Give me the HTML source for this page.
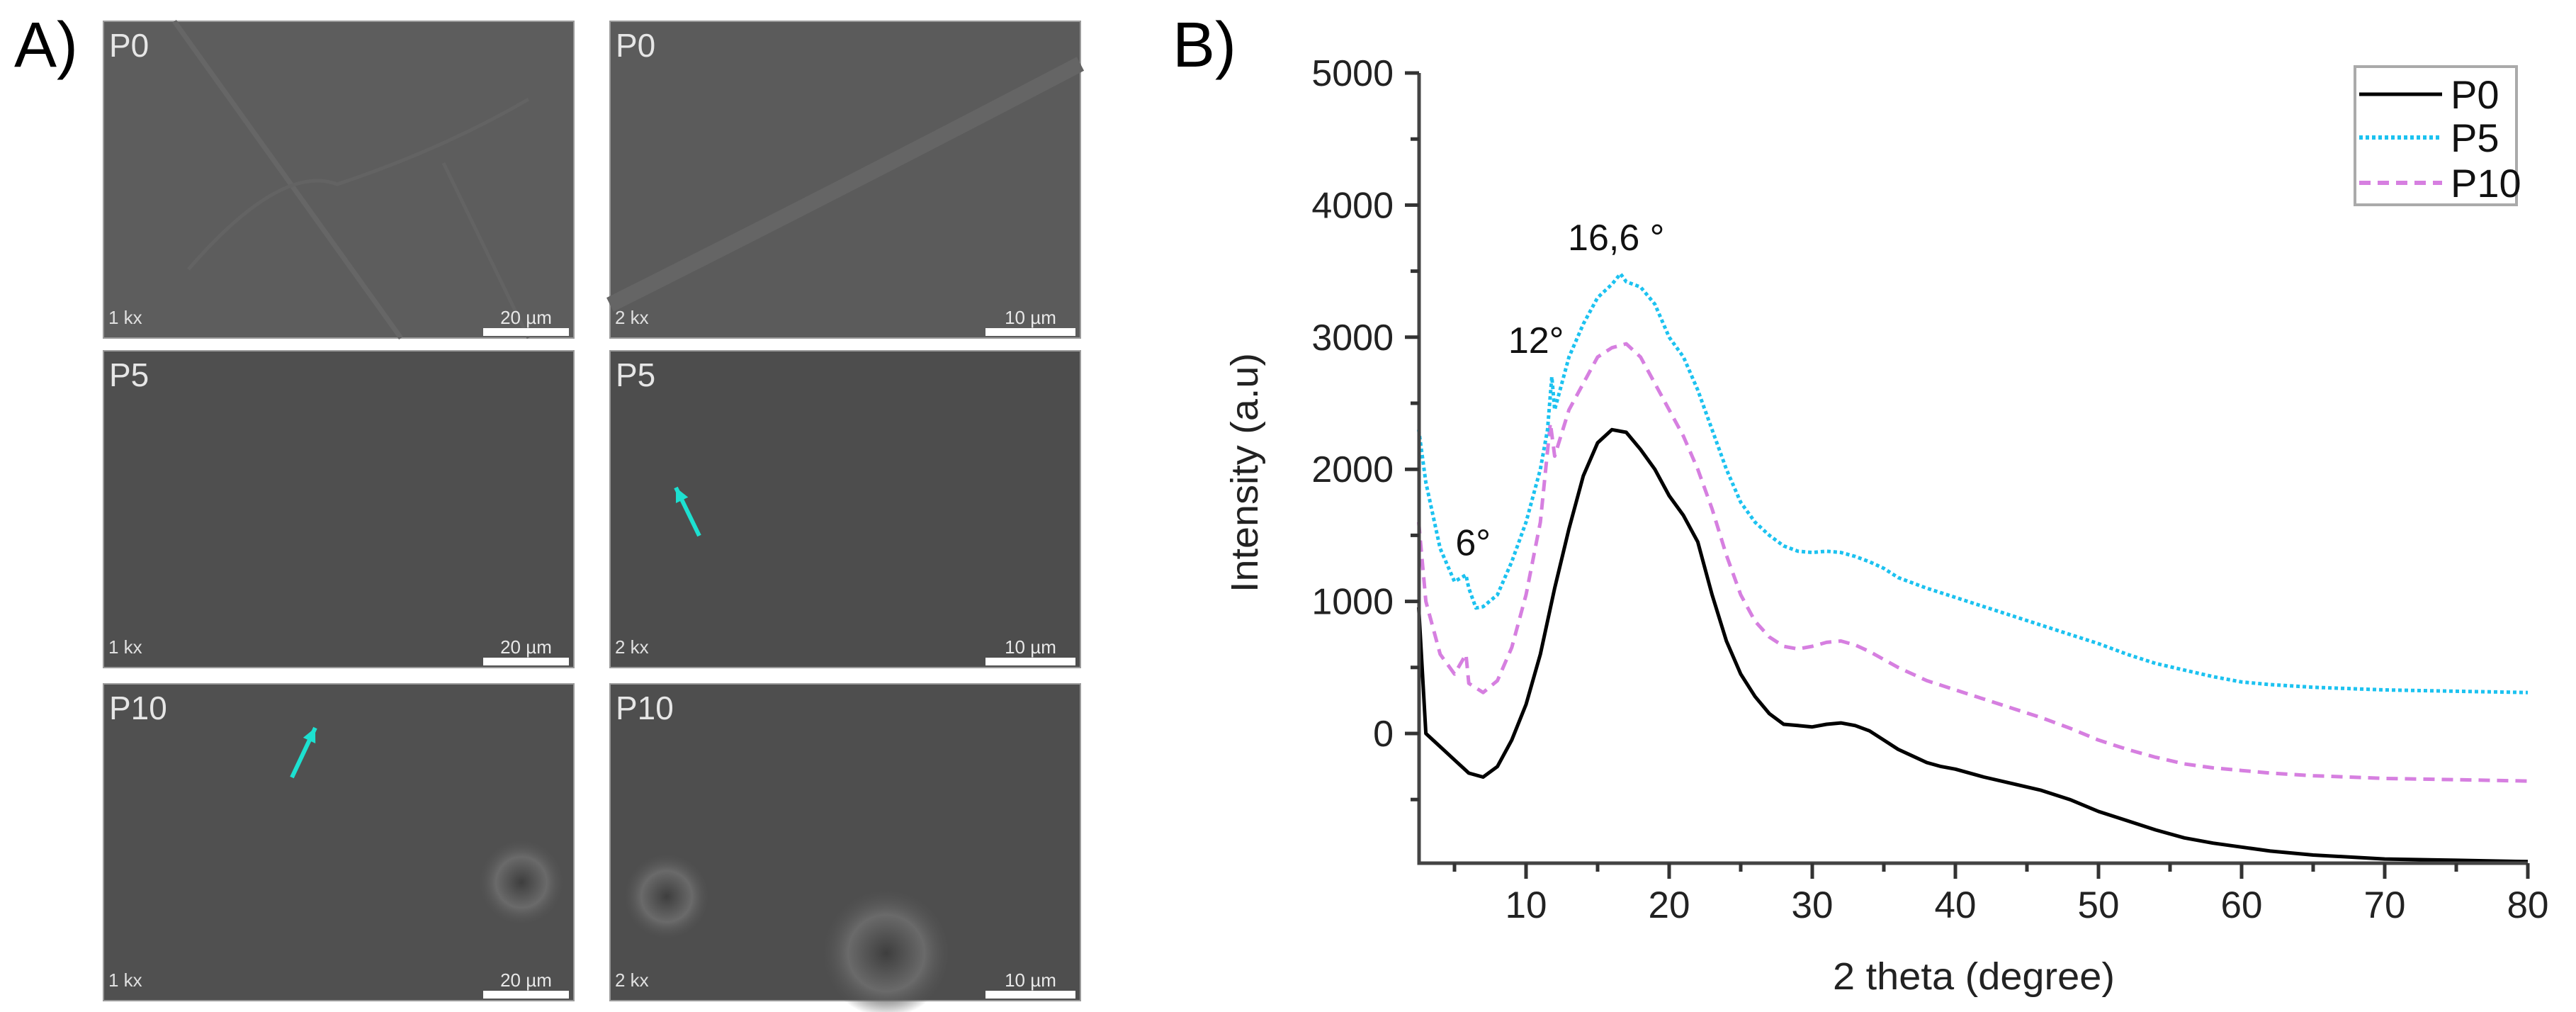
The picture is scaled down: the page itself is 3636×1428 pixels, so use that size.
<!DOCTYPE html>
<html><head><meta charset="utf-8"><style>
html,body{margin:0;padding:0;background:#fff;}
svg{display:block;font-family:"Liberation Sans",sans-serif;}
</style></head><body>
<svg id="fig" width="3636" height="1428" viewBox="0 0 3636 1428" xmlns="http://www.w3.org/2000/svg">
<defs>
<radialGradient id="g1" cx="0.5" cy="0.5" r="0.5"><stop offset="0" stop-color="#3e3e3e"/><stop offset="0.6" stop-color="#6a6a6a"/><stop offset="1" stop-color="#555" stop-opacity="0"/></radialGradient>
</defs>
<text x="20" y="94" font-size="90" fill="#000">A)</text>
<text x="1655" y="94" font-size="90" fill="#000">B)</text>
<g id="sem"></g>
<g id="chart"></g>
</svg>
<script>
// ---------- SEM panels ----------
const semRows = ['P0','P5','P10'];
const semMag = ['1 kx','2 kx'];
const semScale = ['20 µm','10 µm'];
const semFill = [['#5d5d5d','#5b5b5b'],['#4f4f4f','#4d4d4d'],['#505050','#4e4e4e']];
const NS='http://www.w3.org/2000/svg';
function mk(tag, attrs, parent){const e=document.createElementNS(NS,tag);for(const k in attrs)e.setAttribute(k,attrs[k]);parent.appendChild(e);return e;}
const sem=document.getElementById('sem');
const colX=[146,861], rowY=[30,495,965], pw=664, ph=447;
for(let r=0;r<3;r++){for(let c=0;c<2;c++){
  const x=colX[c], y=rowY[r];
  const g=mk('g',{},sem);
  
  
  mk('rect',{x:x,y:y,width:pw,height:ph,fill:semFill[r][c],stroke:'#9a9a9a','stroke-width':2},g);
  if(r===0&&c===0){
    mk('path',{d:`M${x+100} ${y} L${x+420} ${y+ph}`,stroke:'#666','stroke-width':7,fill:'none'},g);
    mk('path',{d:`M${x+120} ${y+350} Q${x+250} ${y+200} ${x+330} ${y+230} Q${x+480} ${y+180} ${x+600} ${y+110}`,stroke:'#636363','stroke-width':5,fill:'none'},g);
    mk('path',{d:`M${x+480} ${y+200} L${x+600} ${y+ph}`,stroke:'#636363','stroke-width':5,fill:'none'},g);
  }
  if(r===0&&c===1){
    mk('path',{d:`M${x} ${y+400} Q${x+300} ${y+250} ${x+664} ${y+60}`,stroke:'#656565','stroke-width':22,fill:'none'},g);
  }
  if(r===2){
    const cx = c===0? x+590 : x+80, cy = c===0? y+280 : y+300;
    mk('circle',{cx:cx,cy:cy,r:60,fill:'url(#g1)'},g);
    if(c===1) mk('circle',{cx:x+390,cy:y+380,r:90,fill:'url(#g1)'},g);
  }
  const t1=mk('text',{x:x+8,y:y+50,'font-size':46,fill:'#e6e6e6'},g); t1.textContent=semRows[r];
   
  const t2=mk('text',{x:x+7,y:y+ph-20,'font-size':26,fill:'#e0e0e0'},g); t2.textContent=semMag[c];
   
  const bw = c===0?121:127;
  const sb=mk('rect',{x:x+pw-7-bw,y:y+ph-14,width:bw,height:11,fill:'#fff'},g);
   
  const t3=mk('text',{x:x+pw-7-bw/2,y:y+ph-20,'font-size':26,fill:'#e8e8e8','text-anchor':'middle'},g); t3.textContent=semScale[c];
   
}}
function arrow(x1,y1,x2,y2,name){
  const g=mk('g',{},sem);
   
  mk('line',{x1:x1,y1:y1,x2:x2,y2:y2,stroke:'#1de0d0','stroke-width':6},g);
  const a=Math.atan2(y2-y1,x2-x1), L=22, w=0.45;
  mk('polygon',{points:`${x2},${y2} ${x2-L*Math.cos(a-w)},${y2-L*Math.sin(a-w)} ${x2-L*Math.cos(a+w)},${y2-L*Math.sin(a+w)}`,fill:'#1de0d0'},g);
}
arrow(987,756,954,688,'arrow-p5');
arrow(412,1097,445,1027,'arrow-p10');

// ---------- XRD chart ----------
const p0X = [2.5,3,4,5,6,7,8,9,10,11,12,13,14,15,16,17,18,19,20,21,22,23,24,25,26,27,28,29,30,31,32,33,34,35,36,37,38,39,40,42,44,46,48,50,52,54,56,58,60,62,65,70,75,80];
const p0Y = [955,0,-100,-200,-300,-330,-250,-50,220,600,1100,1550,1950,2200,2300,2280,2150,2000,1800,1650,1450,1050,700,450,280,150,70,60,50,70,80,60,20,-50,-120,-170,-220,-250,-270,-330,-380,-430,-500,-590,-660,-730,-790,-830,-860,-890,-920,-950,-960,-970];
const p5X = [2.5,3,4,5,5.8,6,6.5,7,8,9,10,11,11.5,11.8,12,13,14,15,16,16.6,17,18,19,20,21,22,23,24,25,26,27,28,29,30,31,32,33,34,35,36,38,40,42,44,46,48,50,52,54,56,58,60,62,65,70,75,80];
const p5Y = [2300,1900,1400,1150,1200,1100,950,960,1050,1300,1600,2000,2300,2700,2450,2850,3100,3300,3400,3480,3420,3380,3250,3000,2850,2600,2300,2000,1750,1600,1500,1420,1380,1370,1380,1370,1340,1300,1250,1180,1100,1030,960,890,820,750,680,600,530,480,430,390,370,350,330,320,310];
const p10X = [2.5,3,4,5,5.8,6,7,8,9,10,11,11.7,12,13,14,15,16,17,18,19,20,21,22,23,24,25,26,27,28,29,30,31,32,33,34,35,36,38,40,42,44,46,48,50,52,54,56,58,60,62,65,70,75,80];
const p10Y = [1600,1000,600,450,600,380,310,400,650,1050,1600,2350,2100,2450,2650,2850,2920,2950,2850,2650,2450,2250,2000,1700,1350,1050,850,730,660,640,660,690,700,670,620,560,500,400,330,260,190,120,40,-50,-120,-180,-230,-260,-280,-300,-320,-340,-350,-360];
const xTicks = [10,20,30,40,50,60,70,80];
const xMinor = [5,15,25,35,45,55,65,75];
const yTicks = [0,1000,2000,3000,4000,5000];
const yMinor = [-500,500,1500,2500,3500,4500];
const annoText = ['6°','12°','16,6 °'];
const annoX = [6.3,10.7,16.3];
const annoY = [1350,2880,3660];

const X0=2003, X1=3568;
const Y0=1035, YPER=0.1864, YBOT=1218, YTOP=103;
const sx = v => 2154 + (v-10)*20.2;
const sy = v => Y0 - v*YPER;
const ch=document.getElementById('chart');

function series(xs, ys, color, dash, width, name){
  let d='';
  for(let i=0;i<xs.length;i++) d+=(i?'L':'M')+sx(xs[i]).toFixed(1)+' '+sy(ys[i]).toFixed(1);
  const p=mk('path',{d:d,fill:'none',stroke:color,'stroke-width':width,'stroke-dasharray':dash,'stroke-linejoin':'round'},ch);
  
  
}
series(p10X,p10Y,'#d67fe0','16 10',5,'series-p10');
series(p5X,p5Y,'#1cc2f0','5 4',5,'series-p5');
series(p0X,p0Y,'#000','',5,'series-p0');

const ax=mk('path',{d:`M${X0} ${YTOP} V${YBOT} H${X1}`,fill:'none',stroke:'#444','stroke-width':5},ch);
 
yTicks.forEach(v=>{
  mk('line',{x1:X0-20,y1:sy(v),x2:X0,y2:sy(v),stroke:'#333','stroke-width':5},ch);
  const t=mk('text',{x:1967,y:sy(v)+18,'font-size':52,'text-anchor':'end',fill:'#222'},ch); t.textContent=v;
   
});
yMinor.forEach(v=>mk('line',{x1:X0-12,y1:sy(v),x2:X0,y2:sy(v),stroke:'#333','stroke-width':5},ch));
xTicks.forEach(v=>{
  mk('line',{x1:sx(v),y1:YBOT,x2:sx(v),y2:YBOT+22,stroke:'#333','stroke-width':5},ch);
  const t=mk('text',{x:sx(v),y:1295,'font-size':53,'text-anchor':'middle',fill:'#222'},ch); t.textContent=v;
   
});
xMinor.forEach(v=>mk('line',{x1:sx(v),y1:YBOT,x2:sx(v),y2:YBOT+12,stroke:'#333','stroke-width':5},ch));

const xt=mk('text',{x:2786,y:1396,'font-size':54,'text-anchor':'middle',fill:'#222',textLength:398,lengthAdjust:'spacingAndGlyphs'},ch);
xt.textContent='2 theta (degree)';
 
const yt=mk('text',{x:0,y:0,'font-size':54,'text-anchor':'middle',fill:'#222',transform:'translate(1775 667) rotate(-90)',textLength:338,lengthAdjust:'spacingAndGlyphs'},ch);
yt.textContent='Intensity (a.u)';
 

for(let i=0;i<annoText.length;i++){
  const t=mk('text',{x:sx(annoX[i]),y:sy(annoY[i]),'font-size':52,'text-anchor':'middle',fill:'#111'},ch);
  t.textContent=annoText[i];
   
}

const lg=mk('g',{},ch);
 
mk('rect',{x:3324,y:94,width:228,height:195,fill:'#fff',stroke:'#aaa','stroke-width':4},lg);
const legNames=['P0','P5','P10'], legCol=['#000','#1cc2f0','#d67fe0'], legDash=['','5 4','16 10'], legY=[133,194,258];
for(let i=0;i<3;i++){
  const e=mk('g',{},lg);
   
  mk('line',{x1:3330,y1:legY[i],x2:3447,y2:legY[i],stroke:legCol[i],'stroke-width':i===0?5:6,'stroke-dasharray':legDash[i]},e);
  const t=mk('text',{x:3459,y:legY[i]+20,'font-size':56,fill:'#111'},e); t.textContent=legNames[i];
}
</script>
</body></html>
